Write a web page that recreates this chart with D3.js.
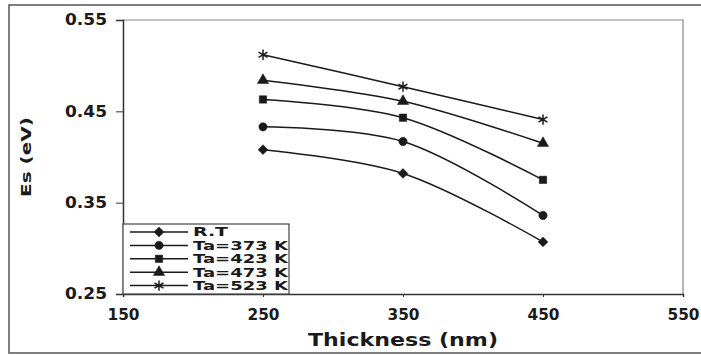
<!DOCTYPE html>
<html>
<head>
<meta charset="utf-8">
<script src="https://cdn.jsdelivr.net/npm/d3@7"></script>
<style>
  body { margin: 0; background: #fff; }
  text { font-family: "DejaVu Sans", sans-serif; font-weight: bold; fill: #1a1a1a; }
</style>
</head>
<body>
<div id="chart"></div>
<script>
// data
const thickness = [250, 350, 450];
const rt    = [0.408, 0.382, 0.307];
const ta373 = [0.433, 0.417, 0.336];
const ta423 = [0.463, 0.443, 0.375];
const ta473 = [0.484, 0.461, 0.415];
const ta523 = [0.512, 0.477, 0.441];
const seriesNames = ["R.T", "Ta=373 K", "Ta=423 K", "Ta=473 K", "Ta=523 K"];
const xTicks = [150, 250, 350, 450, 550];
const yTicks = [0.25, 0.35, 0.45, 0.55];

const W = 701, H = 355;
const margin = {top: 20, right: 18, bottom: 61, left: 123},
    width = W - margin.left - margin.right,
    height = H - margin.top - margin.bottom;

const svg = d3.select("#chart")
  .append("svg")
    .attr("width", W)
    .attr("height", H);

// outer frame of the scanned figure
svg.append("rect")
  .attr("x", 9).attr("y", 5)
  .attr("width", 705).attr("height", 348)
  .attr("fill", "none")
  .attr("stroke", "#555")
  .attr("stroke-width", 1.5);

const g = svg.append("g")
  .attr("transform", `translate(${margin.left},${margin.top})`);

const x = d3.scaleLinear().domain([150, 550]).range([0, width]);
const y = d3.scaleLinear().domain([0.25, 0.55]).range([height, 0]);

// top and right frame of plot area (lighter)
g.append("path")
  .attr("d", `M0,0H${width}V${height}`)
  .attr("fill", "none")
  .attr("stroke", "#888")
  .attr("stroke-width", 1.2);

// axes
const xAxis = g.append("g")
  .attr("transform", `translate(0,${height})`)
  .call(d3.axisBottom(x).tickValues(xTicks).tickSize(3).tickPadding(9).tickFormat(d3.format("d")));
const yAxis = g.append("g")
  .call(d3.axisLeft(y).tickValues(yTicks).tickSize(7).tickPadding(9).tickFormat(d3.format(".2f")));

[xAxis, yAxis].forEach(a => {
  a.select(".domain").attr("stroke", "#333").attr("stroke-width", 1.5);
  a.selectAll(".tick line").attr("stroke", "#333");
  a.selectAll("text")
    .style("font-size", "15px")
    .attr("fill", "#1a1a1a");
});
xAxis.selectAll("text").attr("dy", "0.9em").attr("textLength", 32).attr("lengthAdjust", "spacingAndGlyphs");
yAxis.selectAll("text").attr("textLength", 42).attr("lengthAdjust", "spacingAndGlyphs");

// axis titles
svg.append("text")
  .attr("x", margin.left + x(350))
  .attr("y", 346)
  .attr("text-anchor", "middle")
  .attr("textLength", 190)
  .attr("lengthAdjust", "spacingAndGlyphs")
  .style("font-size", "18px")
  .text("Thickness  (nm)");

svg.append("text")
  .attr("transform", `translate(31,157) rotate(-90)`)
  .attr("text-anchor", "middle")
  .attr("textLength", 80)
  .attr("lengthAdjust", "spacingAndGlyphs")
  .style("font-size", "14px")
  .text("Es  (eV)");

// series
const allSeries = [rt, ta373, ta423, ta473, ta523].map((vals, i) => ({
  name: seriesNames[i],
  values: vals.map((v, j) => ({x: thickness[j], y: v}))
}));
const symbols = [d3.symbolSquare, d3.symbolCircle, d3.symbolSquare, d3.symbolTriangle, d3.symbolAsterisk];
const symSizes = [48, 55, 55, 55, 75];

const line = d3.line()
  .x(d => x(d.x))
  .y(d => y(d.y))
  .curve(d3.curveCatmullRom.alpha(0.5));

function drawMarker(sel, i) {
  const isStroke = i === 4;
  sel.append("path")
    .attr("d", d3.symbol().type(symbols[i]).size(symSizes[i]))
    .attr("transform", i === 0 ? "rotate(45)" : null)
    .attr("fill", isStroke ? "none" : "#1a1a1a")
    .attr("stroke", "#1a1a1a")
    .attr("stroke-width", isStroke ? 1.5 : 0.5);
}

allSeries.forEach((s, i) => {
  g.append("path")
    .datum(s.values)
    .attr("fill", "none")
    .attr("stroke", "#1a1a1a")
    .attr("stroke-width", 1.5)
    .attr("d", line);

  s.values.forEach(d => {
    const m = g.append("g").attr("transform", `translate(${x(d.x)},${y(d.y)})`);
    drawMarker(m, i);
  });
});

// legend
const leg = g.append("g").attr("transform", `translate(0,${height - 70})`);
leg.append("rect")
  .attr("width", 166).attr("height", 70)
  .attr("fill", "#fff")
  .attr("stroke", "#444")
  .attr("stroke-width", 1.2);

allSeries.forEach((s, i) => {
  const row = leg.append("g").attr("transform", `translate(0,${8 + i * 13.4})`);
  row.append("line")
    .attr("x1", 7).attr("x2", 65)
    .attr("stroke", "#1a1a1a").attr("stroke-width", 1.5);
  const m = row.append("g").attr("transform", "translate(36,0)");
  drawMarker(m, i);
  row.append("text")
    .attr("x", 70).attr("dy", "0.36em")
    .attr("textLength", i === 0 ? 35 : 95)
    .attr("lengthAdjust", "spacingAndGlyphs")
    .style("font-size", "12px")
    .text(s.name);
});
</script>
</body>
</html>
